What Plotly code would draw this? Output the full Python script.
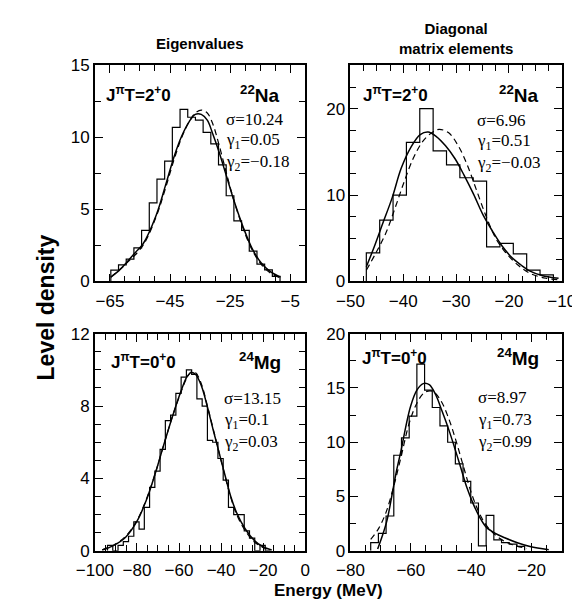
import plotly.graph_objects as go

# ---------------- DATA ----------------
# Top-left: eigenvalues, 22Na, J^pi T = 2+0
tl_bin_start, tl_bin_width = -64.7, 2.56
tl_hist = [0.78, 1.15, 1.55, 2.33, 3.55, 5.45, 7.1, 8.35, 10.7, 11.95, 11.4,
           11.2, 10.35, 9.55, 8.1, 5.95, 4.2, 3.55, 2.1, 1.2, 0.8, 0.35]
tl_fit_x = [-64.7, -62, -59.5, -56.6, -54, -49.6, -46.6, -43.6, -41.1, -38.6, -36.6,
            -34.6, -32.6, -30.7, -28.7, -26.2, -23.7, -20.7, -17.7, -14.7, -11.7, -8.25]
tl_fit_y = [0.3, 0.75, 1.3, 2.0, 2.6, 4.6, 6.6, 8.7, 10.1, 11.1, 11.6,
            11.6, 11.2, 10.2, 9.0, 7.3, 5.6, 3.8, 2.3, 1.3, 0.7, 0.3]
tl_gau_x = [-64.7, -59.5, -54, -49.6, -46.6, -43.6, -41.1, -38.6, -36.6, -34.6,
            -32.6, -30.7, -28.7, -26.2, -23.7, -20.7, -17.7, -14.7, -11.7, -8.25]
tl_gau_y = [0.3, 1.25, 2.5, 4.5, 6.4, 8.5, 10.0, 11.1, 11.7, 11.9,
            11.7, 10.9, 9.5, 7.5, 5.6, 3.7, 2.2, 1.2, 0.6, 0.25]

# Top-right: diagonal matrix elements, 22Na
tr_bin_start, tr_bin_width = -47.0, 2.53
tr_hist = [3.3, 7.1, 10.0, 16.1, 20.0, 15.1, 13.5, 12.0, 11.6, 4.0, 4.4, 3.2, 1.3, 0.75]
tr_fit_x = [-47, -45.7, -43.9, -42.1, -40.4, -38.6, -36.8, -35.3, -33.8, -32, -30.2,
            -28.5, -26.7, -24.9, -23.1, -21.3, -19.5, -17.7, -16, -13.6, -10.6]
tr_fit_y = [1.7, 3.7, 6.7, 9.7, 13.1, 15.5, 17.0, 17.3, 16.8, 15.7, 14.2,
            12.3, 10.1, 7.7, 5.8, 4.1, 2.8, 1.9, 1.2, 0.67, 0.37]
tr_gau_x = [-47, -45.1, -43.3, -41.5, -39.8, -38, -36.2, -34.4, -33.2, -31.4, -29.6,
            -27.9, -26.1, -24.3, -22.5, -20.7, -18.3, -16, -13, -10.6]
tr_gau_y = [1.3, 3.4, 5.6, 8.6, 11.6, 14.4, 16.3, 17.3, 17.6, 17.2, 15.7,
            13.5, 10.5, 7.5, 5.0, 3.4, 1.9, 0.93, 0.37, 0.2]

# Bottom-left: eigenvalues, 24Mg, J^pi T = 0+0
bl_bin_start, bl_bin_width = -94.0, 2.5
bl_hist = [0.3, 0.0, 0.3, 0.5, 0.8, 1.6, 1.2, 2.4, 3.5, 4.4, 5.6, 7.2, 7.5, 8.7, 9.6, 10.0,
           9.75, 8.4, 8.0, 6.1, 6.0, 5.1, 3.9, 2.4, 2.0, 2.0, 1.1, 0.7, 0.0, 0.3, 0.0]
bl_fit_x = [-96.5, -91, -85.4, -79.9, -75.7, -71.5, -67.4, -63.2, -59, -56.3, -54.2, -52.1,
            -49.3, -46.5, -43.8, -41, -38.2, -35.4, -32.6, -28.5, -24.3, -20.1, -16]
bl_fit_y = [0.04, 0.3, 0.75, 1.65, 2.75, 4.2, 5.8, 7.4, 8.85, 9.6, 9.85, 9.75,
            9.1, 7.95, 6.7, 5.45, 4.2, 3.0, 2.1, 1.2, 0.58, 0.22, 0.04]
bl_gau_x = [-96.5, -91, -85.4, -79.9, -75.7, -71.5, -67.4, -63.2, -59, -56.3, -54.2, -52.1,
            -49.3, -46.5, -43.8, -41, -38.2, -35.4, -32.6, -28.5, -24.3, -20.1, -16]
bl_gau_y = [0.05, 0.32, 0.8, 1.7, 2.8, 4.2, 5.8, 7.4, 8.8, 9.55, 9.9, 9.85,
            9.2, 8.0, 6.75, 5.45, 4.15, 2.95, 2.0, 1.1, 0.5, 0.18, 0.04]

# Bottom-right: diagonal matrix elements, 24Mg
br_bin_start, br_bin_width = -73.3, 2.55
br_hist = [0.75, 1.6, 3.2, 8.8, 10.4, 12.4, 17.2, 14.8, 13.2, 11.5,
           10.0, 8.0, 6.4, 4.4, 0.45, 3.25, 1.0, 0.75, 0.6, 0.4]
br_fit_x = [-71.0, -69.5, -67.9, -66.4, -64.8, -63.2, -61.7, -60.1, -58.0, -55.9, -53.9, -51.8,
            -49.7, -47.6, -45.5, -43.4, -41.4, -39.3, -37.2, -35.1, -32.0, -28.9, -24.7, -20.5, -14.3]
br_fit_y = [0.15, 1.33, 2.8, 4.9, 7.3, 9.3, 11.4, 13.3, 14.8, 15.4, 15.3, 14.4,
            12.9, 11.3, 9.5, 7.6, 5.8, 4.3, 3.1, 2.2, 1.6, 1.2, 0.74, 0.39, 0.09]
br_gau_x = [-73.3, -71.0, -68.4, -65.8, -63.2, -60.6, -58.0, -55.4, -52.8, -50.2,
            -47.6, -45.0, -42.4, -39.8, -37.2, -34.6, -30.9, -26.8, -21.6]
br_gau_y = [1.04, 1.9, 3.4, 5.8, 8.7, 11.7, 13.6, 14.6, 14.7, 13.9,
            12.3, 10.1, 7.6, 5.2, 3.4, 2.2, 1.2, 0.6, 0.2]

# panel texts
state_labels = ["J<sup>π</sup>T=2<sup>+</sup>0", "J<sup>π</sup>T=2<sup>+</sup>0",
                "J<sup>π</sup>T=0<sup>+</sup>0", "J<sup>π</sup>T=0<sup>+</sup>0"]
nucleus_labels = ["<sup>22</sup>Na", "<sup>22</sup>Na", "<sup>24</sup>Mg", "<sup>24</sup>Mg"]
sigmas = ["10.24", "6.96", "13.15", "8.97"]
gamma1 = ["0.05", "0.51", "0.1", "0.73"]
gamma2 = ["−0.18", "−0.03", "0.03", "0.99"]

# ---------------- FIGURE ----------------
W, H = 580, 606
fig = go.Figure()


def step_xy(start, width, vals):
    edges = [start + width * i for i in range(len(vals) + 1)]
    xs = [edges[0]] + edges[:-1] + [edges[-1]]
    ys = [0] + list(vals) + [0]
    return xs, ys


panels = [
    (tl_bin_start, tl_bin_width, tl_hist, tl_fit_x, tl_fit_y, tl_gau_x, tl_gau_y),
    (tr_bin_start, tr_bin_width, tr_hist, tr_fit_x, tr_fit_y, tr_gau_x, tr_gau_y),
    (bl_bin_start, bl_bin_width, bl_hist, bl_fit_x, bl_fit_y, bl_gau_x, bl_gau_y),
    (br_bin_start, br_bin_width, br_hist, br_fit_x, br_fit_y, br_gau_x, br_gau_y),
]

for i, (bs, bw, hv, fx, fy, gx, gy) in enumerate(panels):
    xa = "x" if i == 0 else f"x{i+1}"
    ya = "y" if i == 0 else f"y{i+1}"
    hx, hy = step_xy(bs, bw, hv)
    fig.add_trace(go.Scatter(x=hx, y=hy, mode="lines", line=dict(color="black", width=1.2, shape="hv"),
                             xaxis=xa, yaxis=ya, showlegend=False, hoverinfo="skip"))
    fig.add_trace(go.Scatter(x=gx, y=gy, mode="lines",
                             line=dict(color="black", width=1.2, dash="6px,4px", shape="spline", smoothing=1.0),
                             xaxis=xa, yaxis=ya, showlegend=False))
    fig.add_trace(go.Scatter(x=fx, y=fy, mode="lines",
                             line=dict(color="black", width=1.5, shape="spline", smoothing=1.0),
                             xaxis=xa, yaxis=ya, showlegend=False))


def px_x(p):
    return p / W


def px_y(p):
    return 1 - p / H


col_dom = [[px_x(72), px_x(295)], [px_x(343), px_x(567)]]
row_dom = [[px_y(273), px_y(50)], [px_y(551), px_y(327)]]

tick_font = dict(family="Liberation Sans, Arial, sans-serif", size=17, color="black")

x_specs = [
    dict(range=[-70, 0], tickvals=[-65, -45, -25, -5], minor=dict(tick0=-70, dtick=5)),
    dict(range=[-50, -10], tickvals=[-50, -40, -30, -20, -10], minor=dict(tick0=-50, dtick=2.5)),
    dict(range=[-100, 0], tickvals=[-100, -80, -60, -40, -20, 0], minor=dict(tick0=-100, dtick=5)),
    dict(range=[-80, -10], tickvals=[-80, -60, -40, -20], minor=dict(tick0=-80, dtick=5)),
]
y_specs = [
    dict(range=[0, 15], tickvals=[0, 5, 10, 15], minor=dict(tick0=0, dtick=2.5)),
    dict(range=[0, 25], tickvals=[0, 10, 20], minor=dict(tick0=0, dtick=2.5)),
    dict(range=[0, 12], tickvals=[0, 4, 8, 12], minor=dict(tick0=0, dtick=1)),
    dict(range=[0, 20], tickvals=[0, 5, 10, 15, 20], minor=dict(tick0=0, dtick=2.5)),
]

layout_axes = {}
for i in range(4):
    r, c = divmod(i, 2)
    xk = "xaxis" if i == 0 else f"xaxis{i+1}"
    yk = "yaxis" if i == 0 else f"yaxis{i+1}"
    xn = "x" if i == 0 else f"x{i+1}"
    yn = "y" if i == 0 else f"y{i+1}"
    common = dict(showgrid=False, zeroline=False, showline=True, linecolor="black", linewidth=1.8,
                  mirror="allticks", ticks="inside", ticklen=8, tickwidth=1.2, tickcolor="black",
                  tickfont=tick_font, fixedrange=True)
    xs = x_specs[i]
    ys = y_specs[i]
    layout_axes[xk] = dict(common, domain=col_dom[c], anchor=yn, range=xs["range"],
                           tickmode="array", tickvals=xs["tickvals"], ticklabelstandoff=3,
                           minor=dict(xs["minor"], ticks="inside", ticklen=6, tickwidth=1.0,
                                      tickcolor="black", showgrid=False))
    layout_axes[yk] = dict(common, domain=row_dom[r], anchor=xn, range=ys["range"],
                           tickmode="array", tickvals=ys["tickvals"],
                           minor=dict(ys["minor"], ticks="inside", ticklen=6, tickwidth=1.0,
                                      tickcolor="black", showgrid=False))

fig.update_layout(**layout_axes)

annotations = []
bold_font = "Liberation Sans, Arial, sans-serif"
serif_font = "Liberation Serif, Times New Roman, serif"
txt_pos = [
    dict(state=(0.045, 0.868), nuc=(0.89, 0.868), stats=(0.615, [0.75, 0.65, 0.55])),
    dict(state=(0.05, 0.868), nuc=(0.90, 0.868), stats=(0.59, [0.745, 0.645, 0.545])),
    dict(state=(0.065, 0.873), nuc=(0.895, 0.873), stats=(0.605, [0.70, 0.60, 0.497])),
    dict(state=(0.045, 0.893), nuc=(0.90, 0.893), stats=(0.595, [0.704, 0.600, 0.496])),
]
for i in range(4):
    xr = "x domain" if i == 0 else f"x{i+1} domain"
    yr = "y domain" if i == 0 else f"y{i+1} domain"
    p = txt_pos[i]
    annotations.append(dict(xref=xr, yref=yr, x=p["state"][0], y=p["state"][1], xanchor="left",
                            yanchor="middle", showarrow=False,
                            text=f"<b>{state_labels[i]}</b>",
                            font=dict(family=bold_font, size=17, color="black")))
    annotations.append(dict(xref=xr, yref=yr, x=p["nuc"][0], y=p["nuc"][1], xanchor="right",
                            yanchor="middle", showarrow=False,
                            text=f"<b>{nucleus_labels[i]}</b>",
                            font=dict(family=bold_font, size=19, color="black")))
    sx, sys_ = p["stats"]
    for t, yy in zip([f"σ={sigmas[i]}", f"γ<sub>1</sub>={gamma1[i]}", f"γ<sub>2</sub>={gamma2[i]}"], sys_):
        annotations.append(dict(xref=xr, yref=yr, x=sx, y=yy, xanchor="left", yanchor="middle",
                                showarrow=False, text=t,
                                font=dict(family=serif_font, size=17, color="black")))

annotations += [
    dict(xref="paper", yref="paper", x=sum(col_dom[0]) / 2, y=px_y(27), showarrow=False,
         text="<b>Eigenvalues</b>", font=dict(family=bold_font, size=15, color="black"),
         xanchor="center", yanchor="middle"),
    dict(xref="paper", yref="paper", x=sum(col_dom[1]) / 2, y=px_y(22), showarrow=False,
         text="<b>Diagonal<br>matrix elements</b>", font=dict(family=bold_font, size=15, color="black"),
         xanchor="center", yanchor="middle"),
    dict(xref="paper", yref="paper", x=px_x(20), y=px_y(300), showarrow=False, textangle=-90,
         text="<b>Level density</b>", font=dict(family=bold_font, size=23, color="black"),
         xanchor="center", yanchor="middle"),
    dict(xref="paper", yref="paper", x=px_x(320), y=px_y(592), showarrow=False,
         text="<b>Energy (MeV)</b>", font=dict(family=bold_font, size=17, color="black"),
         xanchor="center", yanchor="middle"),
]

fig.update_layout(width=W, height=H, autosize=False, margin=dict(l=0, r=0, t=0, b=0),
                  paper_bgcolor="white", plot_bgcolor="white", annotations=annotations,
                  showlegend=False)

fig.write_html("out.html")
